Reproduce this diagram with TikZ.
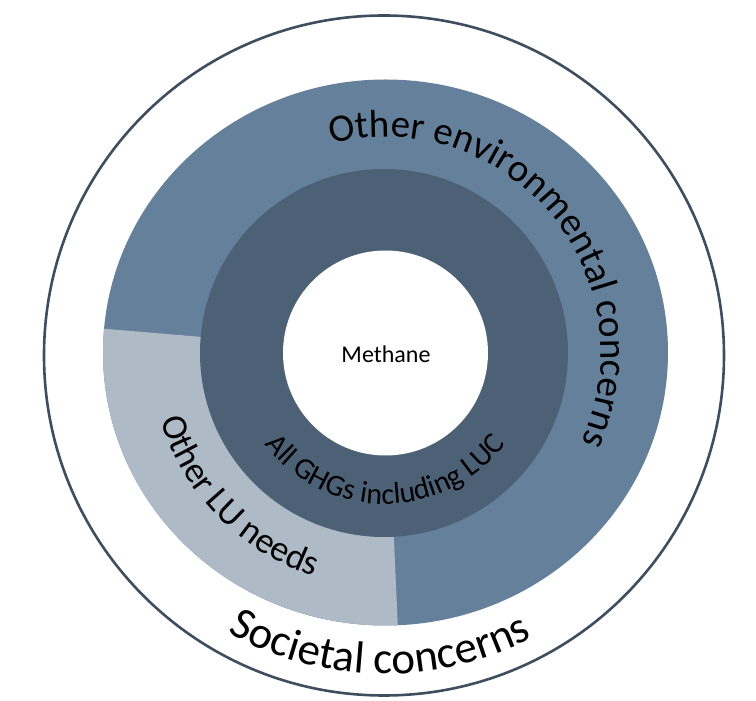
\documentclass[tikz,border=0pt]{standalone}
\usepackage{fontspec}
\setmainfont{Carlito}
\usetikzlibrary{decorations.text}
\definecolor{ringblue}{HTML}{64809B}
\definecolor{ringdark}{HTML}{4C6176}
\definecolor{ringlight}{HTML}{AEBAC6}
\definecolor{rimline}{HTML}{3F4E5E}
\tikzset{
  curvetext/.style={decorate, decoration={text along path, text align=center, text={#1}}},
}
\begin{document}
\begin{tikzpicture}[x=1pt,y=1pt]
\useasboundingbox (-385,-348) rectangle (371,353);
\fill[white] (-385,-348) rectangle (371,353);
\coordinate (c) at (0,0);
% outer rim
\draw[rimline, line width=2.6pt] (-1,-2.5) circle[radius=340];
% blue ring
\fill[ringblue] (0.5,0.5) ellipse[x radius=282.5, y radius=273];
\fill[ringlight] (0.5,0.5) -- ++(175:282.5 and 273) arc[start angle=175, end angle=272.5, x radius=282.5, y radius=273] -- cycle;
% dark ring
\fill[ringdark] (-1,0) circle[radius=184];
% inner
\fill[white] (0.5,0) circle[radius=102.5];
\node[font=\fontsize{24}{28}\selectfont, inner sep=0pt] (methane) at (1,-1) {Methane};
% curved labels
\path[curvetext={|\fontsize{39}{41}\selectfont|Other environmental concerns}]
  (110:216) arc[start angle=110, end angle=-30, radius=216];
\path[curvetext={|\fontsize{45}{47}\selectfont|Societal concerns}]
  (229:321) arc[start angle=229, end angle=309, radius=321];
\path[curvetext={|\fontsize{36}{38}\selectfont|Other LU needs}]
  (190:234) arc[start angle=190, end angle=259, radius=234];
\path[curvetext={|\fontsize{30}{32}\selectfont|All GHGs including LUC}]
  (200:151) arc[start angle=200, end angle=340, radius=151];
\end{tikzpicture}
\end{document}
